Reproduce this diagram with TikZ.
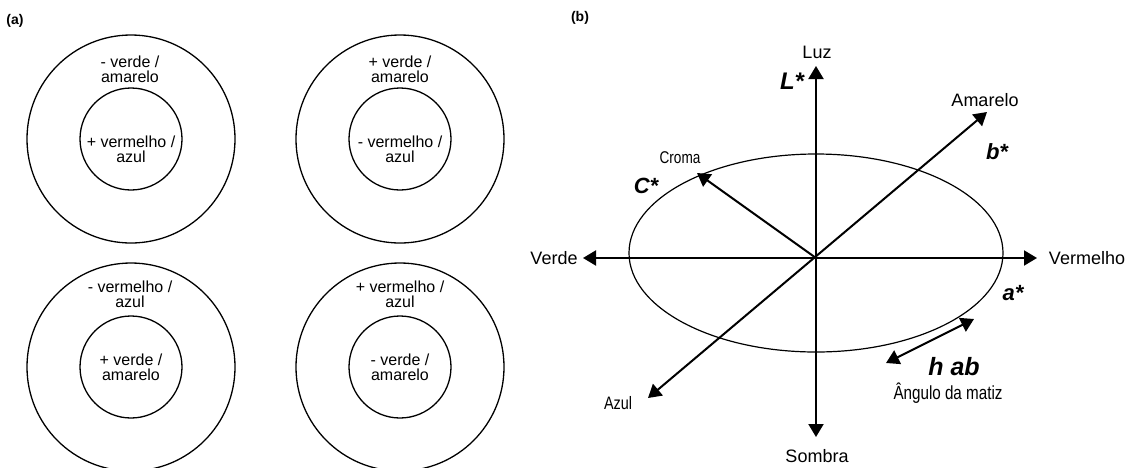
\documentclass[tikz,border=0pt]{standalone}
\usepackage{fontspec}
\setmainfont{Liberation Sans}
\newfontfamily\narrowfont[FakeStretch=0.8]{Liberation Sans}
\usetikzlibrary{arrows.meta}

\begin{document}
\begin{tikzpicture}[x=1pt, y=-1pt,
    every node/.style={inner sep=0pt, align=center},
    ringtext/.style={font=\fontsize{16}{15}\selectfont},
    ring/.style={draw, circle, line width=1.3pt},
    axlabel/.style={font=\fontsize{18}{18}\selectfont},
    smalllabel/.style={font=\narrowfont\fontsize{18}{18}\selectfont},
    starlabel/.style={font=\bfseries\itshape\fontsize{22}{22}\selectfont},
    axis/.style={line width=2pt, {Triangle[length=13pt,width=15pt]}-{Triangle[length=13pt,width=15pt]}},
    vec/.style={line width=2pt, -{Triangle[length=13pt,width=15pt]}}]
\useasboundingbox (0,0) rectangle (1127,467);

% (a) oposicao das cores
\node[font=\bfseries\fontsize{14}{14}\selectfont] (tagA) at (15,21) {(a)};
\node[ring, minimum size=208pt] (outTL) at (131,139) {};
\node[ring, minimum size=102pt] (inTL) at (131,139) {};
\node[ring, minimum size=208pt] (outTR) at (400,139) {};
\node[ring, minimum size=102pt] (inTR) at (400,139) {};
\node[ring, minimum size=208pt] (outBL) at (131,367) {};
\node[ring, minimum size=102pt] (inBL) at (131,367) {};
\node[ring, minimum size=208pt] (outBR) at (400,367) {};
\node[ring, minimum size=102pt] (inBR) at (400,367) {};

\node[ringtext] (tTL) at (130,69) {- verde /\\amarelo};
\node[ringtext] (cTL) at (131,149) {+ vermelho /\\azul};
\node[ringtext] (tTR) at (400,69) {+ verde /\\amarelo};
\node[ringtext] (cTR) at (400,149) {- vermelho /\\azul};
\node[ringtext] (tBL) at (130,294) {- vermelho /\\azul};
\node[ringtext] (cBL) at (131,367) {+ verde /\\amarelo};
\node[ringtext] (tBR) at (400,294) {+ vermelho /\\azul};
\node[ringtext] (cBR) at (400,367) {- verde /\\amarelo};

% (b) espaco CIELAB
\node[font=\bfseries\fontsize{14}{14}\selectfont] (tagB) at (580,18) {(b)};
\coordinate (O) at (816,258);
\coordinate (top) at (816,66);
\coordinate (bot) at (816,437);
\coordinate (west) at (583,258);
\coordinate (east) at (1037,258);
\coordinate (yel) at (987,112);
\coordinate (blu) at (648,398);
\coordinate (cro) at (697,173);
\coordinate (h1) at (886,363);
\coordinate (h2) at (974,319);

\draw[line width=1.2pt] (816,253) ellipse [x radius=187pt, y radius=99pt];
\draw[axis] (bot) -- (top);
\draw[axis] (west) -- (east);
\draw[axis] (blu) -- (yel);
\draw[vec] (O) -- (cro);
\draw[axis] (h1) -- (h2);

\node[axlabel] (luz) at (817,52) {Luz};
\node[axlabel] (sombra) at (817,456) {Sombra};
\node[axlabel] (verde) at (554,258) {Verde};
\node[axlabel] (verm) at (1087,258) {Vermelho};
\node[axlabel] (amar) at (985,100) {Amarelo};
\node[smalllabel] (azul) at (618,403) {Azul};
\node[smalllabel, font=\narrowfont\fontsize{17}{17}\selectfont] (croma) at (680,158) {Croma};
\node[smalllabel, font=\narrowfont\fontsize{19}{19}\selectfont] (ang) at (948,393) {Ângulo da matiz};

\node[starlabel, font=\bfseries\itshape\fontsize{24}{24}\selectfont] (Lstar) at (792,81) {L*};
\node[starlabel] (bstar) at (997,152) {b*};
\node[starlabel] (Cstar) at (646,186) {C*};
\node[starlabel] (astar) at (1013,293) {a*};
\node[starlabel, font=\bfseries\itshape\fontsize{25}{25}\selectfont] (hab) at (954,367) {h ab};
\end{tikzpicture}
\end{document}
